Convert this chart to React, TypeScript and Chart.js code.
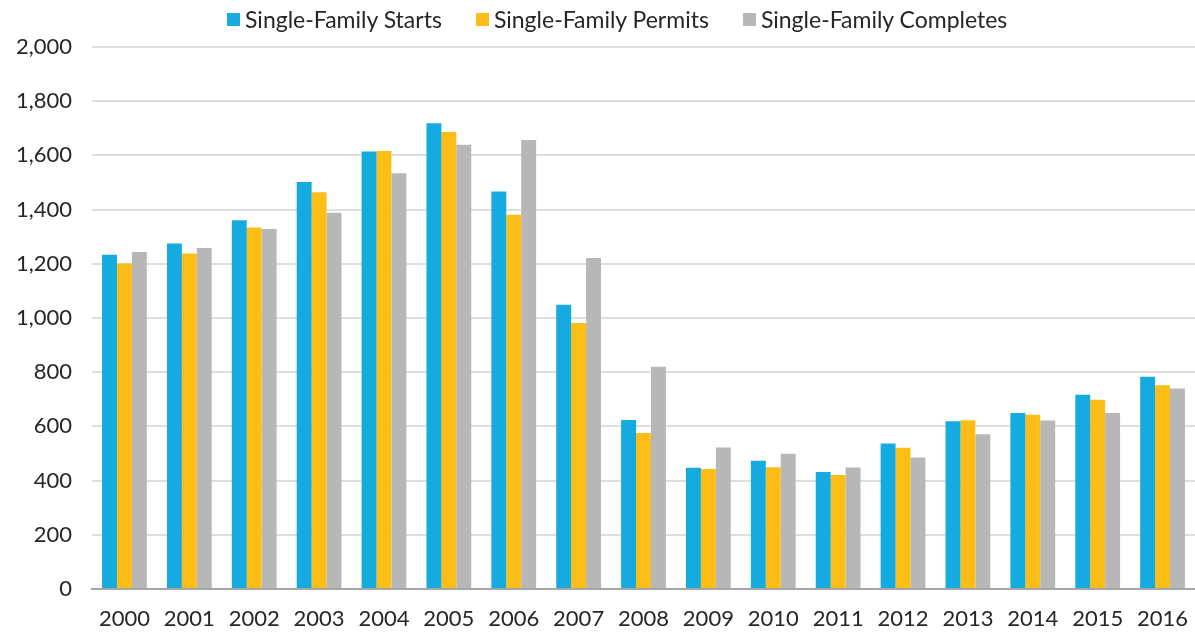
import React, { useEffect, useRef } from "react";
import { Chart, registerables } from "chart.js";

Chart.register(...registerables);

const categories = ["2000","2001","2002","2003","2004","2005","2006","2007","2008","2009","2010","2011","2012","2013","2014","2015","2016"];
const starts = [1233, 1275, 1361, 1502, 1614, 1719, 1467, 1049, 624, 447, 473, 432, 537, 619, 649, 717, 783];
const permits = [1201, 1238, 1334, 1464, 1616, 1686, 1381, 982, 576, 443, 449, 421, 521, 623, 643, 698, 752];
const completes = [1244, 1258, 1328, 1388, 1534, 1639, 1657, 1221, 820, 522, 499, 448, 485, 571, 622, 649, 740];
const seriesNames = ["Single-Family Starts", "Single-Family Permits", "Single-Family Completes"];
const seriesColors = ["#16ABE0", "#FCBE16", "#B7B7B7"];
const yMin = 0;
const yMax = 2000;
const yStep = 200;

const FONT = "Lato, 'Noto Sans', sans-serif";
const TEXT = "#262626";

export default function App() {
  const ref = useRef<HTMLCanvasElement | null>(null);
  useEffect(() => {
    document.body.style.margin = "0";
    const canvas = ref.current;
    if (!canvas) return;
    const chart = new Chart(canvas, {
      type: "bar",
      data: {
        labels: categories,
        datasets: [
          { label: seriesNames[0], data: starts, backgroundColor: seriesColors[0] },
          { label: seriesNames[1], data: permits, backgroundColor: seriesColors[1] },
          { label: seriesNames[2], data: completes, backgroundColor: seriesColors[2] },
        ],
      },
      options: {
        animation: false,
        responsive: false,
        maintainAspectRatio: false,
        layout: { padding: { top: 47, left: 0, right: 0, bottom: 0 } },
        datasets: { bar: { categoryPercentage: 0.69, barPercentage: 1.0 } },
        plugins: {
          legend: { display: false },
          tooltip: { enabled: false },
        },
        scales: {
          x: {
            grid: { display: false, drawTicks: false },
            border: { color: "#A6A6A6", width: 2 },
            ticks: { font: { family: FONT, size: 22 }, color: TEXT, padding: 17, maxRotation: 0, autoSkip: false },
            afterFit: (s: any) => { s.height = 43; s.paddingLeft = 0; s.paddingRight = 0; },
          },
          y: {
            min: yMin,
            max: yMax,
            grid: { color: "#DEDEDE", lineWidth: 2, drawTicks: false },
            border: { display: false },
            ticks: { stepSize: yStep, font: { family: FONT, size: 22 }, color: TEXT, padding: 20 },
            afterFit: (s: any) => { s.width = 92; },
          },
        },
      },
    });
    return () => chart.destroy();
  }, []);
  return (
    <div style={{ position: "relative", width: 1195, height: 632 }}>
      <canvas ref={ref} width={1195} height={632} style={{ display: "block", width: 1195, height: 632 }} />
      <div
        style={{
          position: "absolute",
          top: 8,
          left: 227,
          height: 23,
          display: "flex",
          alignItems: "center",
          fontFamily: FONT,
          fontSize: 23,
          lineHeight: "23px",
          color: TEXT,
          whiteSpace: "nowrap",
        }}
      >
        {seriesNames.map((name, i) => (
          <div key={name} style={{ display: "flex", alignItems: "center", marginRight: i < seriesNames.length - 1 ? 34 : 0 }}>
            <span style={{ display: "inline-block", width: 13, height: 13, background: seriesColors[i], marginRight: 5 }} />
            <span>{name}</span>
          </div>
        ))}
      </div>
    </div>
  );
}
